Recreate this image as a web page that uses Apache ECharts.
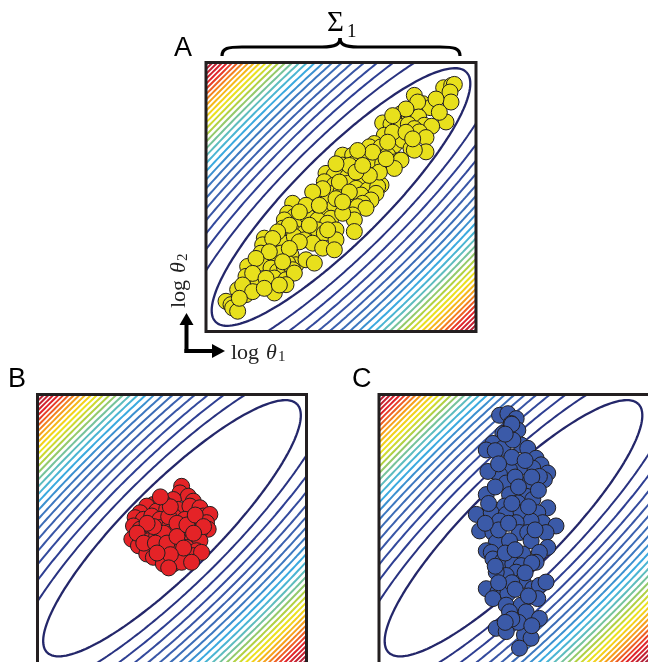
<!DOCTYPE html>
<html><head><meta charset="utf-8">
<script src="https://cdn.jsdelivr.net/npm/echarts@6/dist/echarts.min.js"></script>
<style>html,body{margin:0;padding:0;background:#fff}#c{width:648px;height:662px}</style>
</head><body><div id="c"></div>
<script>
// ---- Data (each panel: log θ1 / log θ2 in arbitrary units 0..810, y up) ----
const panelLabels = ['A', 'B', 'C'];
const priorCenter = [405, 405];
const priorMajorScale = 532;   // spread along log θ1 = log θ2
const priorMinorScale = 134;   // spread across it
const contourLevels = [1, 1.63, 2.26, 2.89, 3.52, 4.15, 4.78, 5.41, 6.04, 6.67, 7.3, 7.93, 8.56, 9.19, 9.82,
  10.45, 11.08, 11.71, 12.34, 12.97, 13.6, 14.23, 14.86, 15.49, 16.12, 16.75, 17.38, 18.01, 18.64];

const pointsA = [[713,734],[737,741],[745,744],[732,721],[735,691],[720,631],[625,711],[650,686],[673,674],[635,691],
[585,656],[610,646],[638,646],[655,621],[677,618],[530,628],[555,624],[585,618],[607,624],[535,591],[565,591],[585,586],
[625,611],[640,601],[660,584],[505,566],[490,556],[525,556],[565,561],[590,576],[615,551],[660,541],[625,546],
[410,531],[440,531],[475,526],[515,526],[545,531],[570,511],[585,516],[410,501],[445,506],[475,496],[505,501],[530,506],
[565,491],[360,476],[385,471],[425,466],[465,461],[505,471],[525,441],[475,451],[355,451],[385,441],[425,446],[450,431],
[485,426],[515,436],[510,416],[345,416],[370,416],[405,421],[435,406],[465,411],[495,396],[470,386],[330,396],[360,396],
[385,376],[425,381],[455,376],[480,371],[440,351],[445,336],[260,386],[245,356],[265,346],[295,356],[325,376],[345,356],
[375,341],[410,356],[235,336],[275,326],[305,346],[335,336],[365,326],[390,306],[230,311],[260,301],[295,296],[335,306],
[355,296],[390,276],[365,306],[175,281],[170,261],[205,256],[235,266],[265,286],[295,276],[320,266],[350,251],[385,246],
[445,301],[165,236],[185,206],[205,226],[225,236],[255,231],[270,201],[300,216],[325,206],[125,196],[165,206],[195,191],
[215,181],[235,196],[245,206],[260,186],[120,166],[155,141],[205,161],[240,156],[265,176],[95,126],[120,111],[205,116],
[240,141],[60,91],[75,81],[80,71],[95,61],
[690,700],[700,660],[600,670],[560,600],[600,600],[620,580],[545,570],[500,540],[455,545],[430,500],[390,505],[520,480],
[490,470],[450,480],[400,450],[430,420],[390,400],[350,430],[320,420],[300,380],[340,380],[410,390],[280,360],[310,320],
[250,320],[215,300],[200,280],[280,270],[250,250],[190,240],[150,220],[230,210],[140,175],[180,160],[110,140],[140,120],
[175,130],[100,100],[220,140],[560,650],[470,500],[540,520]];

const pointsB = [[434,532],[429,512],[454,502],[469,487],[409,492],[379,482],[349,477],[329,472],[309,452],[359,457],
[389,462],[424,462],[459,472],[489,467],[499,442],[519,447],[294,437],[319,432],[344,442],[369,432],[409,442],[444,432],
[479,422],[509,422],[514,402],[289,412],[309,402],[339,392],[369,407],[399,417],[429,407],[459,402],[489,397],[284,372],
[309,377],[334,367],[359,382],[404,387],[434,372],[464,367],[489,367],[304,352],[339,347],[369,342],[389,342],[419,352],
[449,347],[479,337],[329,327],[349,317],[379,312],[414,312],[444,317],[469,322],[494,332],[379,297],[409,297],[434,302],
[464,302],
[395,440],[420,420],[380,390],[350,410],[330,420],[300,390],[320,360],[355,360],[390,360],[420,380],[450,415],[475,445],
[500,410],[470,390],[440,345],[400,325],[360,330],[395,285],[400,470],[370,500]];

const pointsC = [[363,747],[388,752],[413,737],[398,722],[373,692],[418,702],[343,662],[323,642],[373,647],[428,657],
[448,647],[403,672],[473,617],[488,597],[463,587],[423,587],[393,582],[363,567],[328,577],[508,572],[498,552],[483,562],
[443,537],[383,542],[323,507],[393,507],[443,502],[463,492],[418,482],[378,472],[508,467],[293,447],[338,452],[383,447],
[428,452],[478,452],[493,422],[533,412],[458,427],[413,422],[363,427],[303,397],[343,392],[423,392],[448,392],[503,392],
[508,347],[458,367],[353,362],[393,367],[323,337],[338,332],[433,327],[483,332],[343,312],[373,307],[403,297],[428,292],
[473,302],[413,272],[383,262],[353,272],[323,222],[358,212],[388,207],[433,247],[463,222],[483,232],[503,242],[343,192],
[383,172],[428,172],[478,192],[393,152],[443,152],[483,132],[353,102],[383,92],[438,82],[458,72],[423,42],
[400,720],[380,690],[350,640],[400,620],[440,610],[360,600],[410,560],[460,560],[350,530],[420,530],[480,520],[330,480],
[400,480],[450,470],[360,400],[390,420],[470,400],[320,420],[380,330],[410,340],[460,300],[350,290],[440,270],[400,240],
[360,240],[410,220],[450,200],[420,120],[400,130],[460,110],[380,120]];

// ---- Layout / style ----
const grids = [
  {left: 206, top: 62.5, width: 270, height: 269},
  {left: 37.5, top: 394.5, width: 269, height: 269},
  {left: 379, top: 394.5, width: 271, height: 269}
];
const pointColors = ['#e8e01c', '#e42327', '#3b5aa8'];
const pointSets = [pointsA, pointsB, pointsC];
const cmap = [[0,'#24276a'],[0.06,'#2c3b90'],[0.15,'#3a58a8'],[0.25,'#3d78c0'],[0.33,'#3bb0e3'],[0.41,'#67c0b4'],
  [0.49,'#a9cf48'],[0.58,'#f2e31b'],[0.69,'#f7981d'],[0.81,'#e4262a'],[1,'#9b1c3c']];

function hex(c){return [parseInt(c.slice(1,3),16),parseInt(c.slice(3,5),16),parseInt(c.slice(5,7),16)];}
function colorAt(t){
  t = Math.max(0, Math.min(1, t));
  for (let i = 1; i < cmap.length; i++) {
    if (t <= cmap[i][0]) {
      const a = cmap[i-1], b = cmap[i];
      const f = (t - a[0]) / (b[0] - a[0]);
      const ca = hex(a[1]), cb = hex(b[1]);
      return 'rgb(' + ca.map((v, k) => Math.round(v + (cb[k] - v) * f)).join(',') + ')';
    }
  }
  return cmap[cmap.length-1][1];
}
function contour(level, n){
  const pts = [];
  const a = priorMajorScale * Math.sqrt(level), b = priorMinorScale * Math.sqrt(level);
  for (let i = 0; i <= n; i++) {
    const t = 2 * Math.PI * i / n;
    const u = a * Math.cos(t), v = b * Math.sin(t);
    pts.push([priorCenter[0] + (u - v) / Math.SQRT2, priorCenter[1] + (u + v) / Math.SQRT2]);
  }
  return pts;
}

const chart = echarts.init(document.getElementById('c'), null, {renderer: 'canvas'});
const series = [];
const lMin = contourLevels[0], lMax = contourLevels[contourLevels.length - 1];
for (let p = 0; p < 3; p++) {
  contourLevels.forEach(function(L, k){
    series.push({
      type: 'line', xAxisIndex: p, yAxisIndex: p, data: contour(L, 1600),
      showSymbol: false, symbol: 'none', clip: true, silent: true, z: 2,
      lineStyle: {color: colorAt((L - lMin) / (lMax - lMin)), width: k === 0 ? 2.3 : 2}
    });
  });
  series.push({
    type: 'scatter', xAxisIndex: p, yAxisIndex: p, data: pointSets[p], symbolSize: 16, z: 5, silent: true,
    itemStyle: {color: pointColors[p], borderColor: '#231f20', borderWidth: 1, opacity: 1}
  });
}

const serif = '"Liberation Serif", "DejaVu Serif", serif';
const graphic = [];
grids.forEach(function(g){
  graphic.push({type: 'rect', z: 100, shape: {x: g.left, y: g.top, width: g.width, height: g.height},
    style: {fill: 'none', stroke: '#231f20', lineWidth: 3}});
});
const letterPos = [[174, 35], [8, 366], [352, 366]];
panelLabels.forEach(function(s, i){
  graphic.push({type: 'text', z: 100, x: letterPos[i][0], y: letterPos[i][1],
    style: {text: s, font: '27px Arial, "Liberation Sans", sans-serif', fill: '#000', verticalAlign: 'top'}});
});
const braceStyle = {stroke: '#000', lineWidth: 3.2, fill: 'none'};
graphic.push(
  {type: 'bezierCurve', z: 100, shape: {x1: 222, y1: 56, cpx1: 222, cpy1: 48, cpx2: 228, cpy2: 47, x2: 242, y2: 47}, style: braceStyle},
  {type: 'line', z: 100, shape: {x1: 242, y1: 47, x2: 322, y2: 47}, style: braceStyle},
  {type: 'bezierCurve', z: 100, shape: {x1: 322, y1: 47, cpx1: 336, cpy1: 47, cpx2: 340, cpy2: 44, x2: 340, y2: 38}, style: braceStyle},
  {type: 'bezierCurve', z: 100, shape: {x1: 340, y1: 38, cpx1: 340, cpy1: 44, cpx2: 344, cpy2: 47, x2: 358, y2: 47}, style: braceStyle},
  {type: 'line', z: 100, shape: {x1: 358, y1: 47, x2: 440, y2: 47}, style: braceStyle},
  {type: 'bezierCurve', z: 100, shape: {x1: 440, y1: 47, cpx1: 454, cpy1: 47, cpx2: 460, cpy2: 48, x2: 460, y2: 56}, style: braceStyle}
);
graphic.push(
  {type: 'text', z: 100, x: 327, y: 9, style: {text: 'Σ', font: '29px ' + serif, fill: '#000', verticalAlign: 'top'}},
  {type: 'text', z: 100, x: 347, y: 23, style: {text: '1', font: '19px ' + serif, fill: '#000', verticalAlign: 'top'}}
);
graphic.push(
  {type: 'line', z: 100, shape: {x1: 186.5, y1: 353, x2: 186.5, y2: 322}, style: {stroke: '#000', lineWidth: 4}},
  {type: 'polygon', z: 100, shape: {points: [[179.5, 325], [193.5, 325], [186.5, 313]]}, style: {fill: '#000'}},
  {type: 'line', z: 100, shape: {x1: 184.5, y1: 351, x2: 215, y2: 351}, style: {stroke: '#000', lineWidth: 4}},
  {type: 'polygon', z: 100, shape: {points: [[212, 344], [212, 358], [225, 351]]}, style: {fill: '#000'}}
);
graphic.push(
  {type: 'text', z: 100, x: 231, y: 342, style: {text: 'log', font: '22px ' + serif, fill: '#222', verticalAlign: 'top'}},
  {type: 'text', z: 100, x: 266, y: 342, style: {text: 'θ', font: 'italic 22px ' + serif, fill: '#222', verticalAlign: 'top'}},
  {type: 'text', z: 100, x: 278, y: 350, style: {text: '1', font: '15px ' + serif, fill: '#222', verticalAlign: 'top'}}
);
graphic.push({type: 'group', z: 100, x: 168, y: 308, rotation: Math.PI / 2, children: [
  {type: 'text', z: 100, x: 0, y: 0, style: {text: 'log', font: '22px ' + serif, fill: '#222', verticalAlign: 'top'}},
  {type: 'text', z: 100, x: 35, y: 0, style: {text: 'θ', font: 'italic 22px ' + serif, fill: '#222', verticalAlign: 'top'}},
  {type: 'text', z: 100, x: 47, y: 8, style: {text: '2', font: '15px ' + serif, fill: '#222', verticalAlign: 'top'}}
]});

const axisCommon = {type: 'value', min: 0, max: 810, show: false, splitLine: {show: false}};
chart.setOption({
  animation: false,
  backgroundColor: '#fff',
  grid: grids.map(g => Object.assign({show: false, containLabel: false}, g)),
  xAxis: grids.map((g, i) => Object.assign({gridIndex: i}, axisCommon)),
  yAxis: grids.map((g, i) => Object.assign({gridIndex: i}, axisCommon)),
  series: series,
  graphic: graphic
});
</script></body></html>
